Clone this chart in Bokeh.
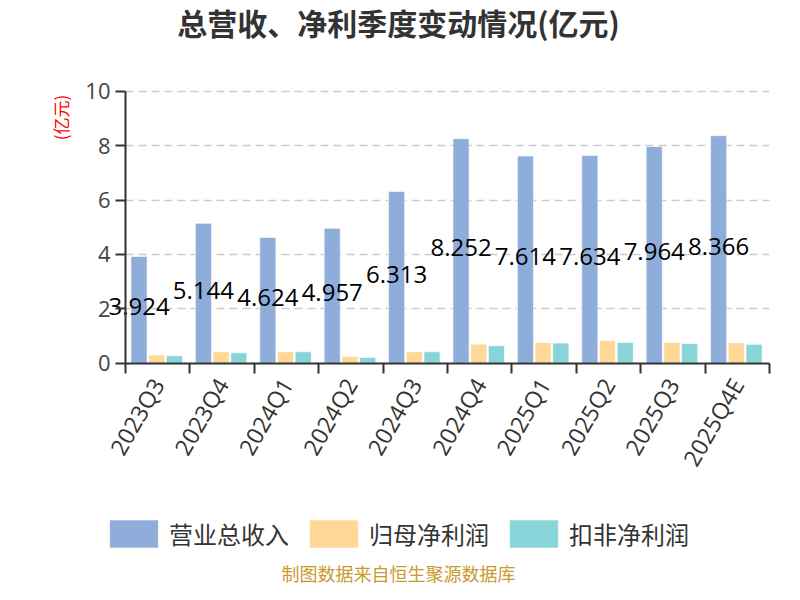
import math
from bokeh.plotting import figure
from bokeh.models import FixedTicker, Label, Legend, LegendItem, Range1d, ColumnDataSource, Grid
from bokeh.core.properties import value
from bokeh.embed import file_html
from bokeh.resources import INLINE

# ---- data ----
categories = ["2023Q3", "2023Q4", "2024Q1", "2024Q2", "2024Q3",
              "2024Q4", "2025Q1", "2025Q2", "2025Q3", "2025Q4E"]
revenue = [3.924, 5.144, 4.624, 4.957, 6.313, 8.252, 7.614, 7.634, 7.964, 8.366]
net_profit = [0.30, 0.42, 0.42, 0.25, 0.42, 0.70, 0.76, 0.83, 0.76, 0.75]
deducted_profit = [0.27, 0.38, 0.42, 0.21, 0.42, 0.64, 0.74, 0.76, 0.72, 0.69]
series_names = ["营业总收入", "归母净利润", "扣非净利润"]
y_ticks = [0, 2, 4, 6, 8, 10]
title_text = "总营收、净利季度变动情况(亿元)"
unit_text = "(亿元)"
source_text = "制图数据来自恒生聚源数据库"

colors = ["#8FADDB", "#FFD897", "#87D5D8"]
offsets = [0.21, 0.485, 0.76]
bar_w = 0.25

n = len(categories)
W, H = 784, 584
ax_x = 125.0      # px of value-axis from left
zero_y = 362.7    # px of zero line from top
band_px = 64.4    # px per category
unit_px = 27.2    # px per 1 (亿元)

def dx(px):   # canvas px -> data x
    return (px - ax_x) / band_px

def dy(py):   # canvas px (from top) -> data y
    return (zero_y - py) / unit_px

p = figure(width=W, height=H, output_backend="svg", toolbar_location=None,
           x_range=Range1d(dx(0), dx(W)), y_range=Range1d(dy(H), dy(0)),
           min_border=0, background_fill_color="white", border_fill_color="white")
p.outline_line_color = None

# grid
p.xgrid.visible = False
has_cross = "cross_bounds" in Grid.properties()
if has_cross:
    p.ygrid.ticker = FixedTicker(ticks=y_ticks[1:])
    p.ygrid.cross_bounds = (0, n)
    p.ygrid.grid_line_color = "#cccccc"
    p.ygrid.grid_line_dash = "8 5"
    p.ygrid.grid_line_width = 1.5
else:
    p.ygrid.visible = False
    p.segment(x0=[0] * 5, x1=[n] * 5, y0=y_ticks[1:], y1=y_ticks[1:],
              line_color="#cccccc", line_dash="8 5", line_width=1.5)

# y axis
p.yaxis.fixed_location = 0
p.yaxis.bounds = (0, 10)
p.yaxis.ticker = FixedTicker(ticks=y_ticks)
p.yaxis.axis_line_color = "#333333"
p.yaxis.axis_line_width = 2
p.yaxis.major_tick_line_color = "#333333"
p.yaxis.major_tick_line_width = 2
p.yaxis.major_tick_out = 10
p.yaxis.major_tick_in = 0
p.yaxis.minor_tick_line_color = None
p.yaxis.major_label_text_font = "Open Sans"
p.yaxis.major_label_text_font_size = "22px"
p.yaxis.major_label_text_color = "#444444"
p.yaxis.major_label_standoff = 5

# x axis
centers = [i + 0.5 for i in range(n)]
p.xaxis.fixed_location = 0
p.xaxis.bounds = (0, n)
p.xaxis.ticker = FixedTicker(ticks=centers, minor_ticks=list(range(n + 1)))
p.xaxis.major_label_overrides = {c: lab for c, lab in zip(centers, categories)}
p.xaxis.axis_line_color = "#333333"
p.xaxis.axis_line_width = 2
p.xaxis.major_tick_line_color = None
p.xaxis.minor_tick_line_color = "#333333"
p.xaxis.minor_tick_line_width = 2
p.xaxis.minor_tick_out = 10
p.xaxis.minor_tick_in = 0
p.xaxis.major_label_orientation = math.pi / 3
p.xaxis.major_label_text_font = "Open Sans"
p.xaxis.major_label_text_font_size = "23px"
p.xaxis.major_label_text_color = "#333333"
p.xaxis.major_label_standoff = 7

# bars
renderers = []
for k, vals in enumerate([revenue, net_profit, deducted_profit]):
    xs = [i + offsets[k] for i in range(n)]
    r = p.vbar(x=xs, top=vals, width=bar_w, bottom=0,
               fill_color=colors[k], line_color="white", line_alpha=0.6, line_width=1)
    renderers.append(r)

# value labels on revenue bars (at half height)
lab_src = ColumnDataSource(dict(
    x=[i + offsets[0] for i in range(n)],
    y=[v / 2 for v in revenue],
    t=[f"{v:.3f}" for v in revenue],
))
p.text(x="x", y="y", text="t", source=lab_src, text_align="center",
       text_baseline="middle", y_offset=-3, text_font=value("Open Sans"),
       text_font_size="24px", text_color="#000000")

# legend
legend = Legend(items=[LegendItem(label=series_names[k], renderers=[renderers[k]])
                       for k in range(3)],
                orientation="horizontal", location=(103, H - 513.2 - 40),
                glyph_width=61, glyph_height=35, label_height=40,
                label_standoff=5, spacing=14, padding=0, margin=0,
                border_line_color=None, background_fill_alpha=0,
                label_text_font="Noto Sans CJK SC", label_text_font_size="24px",
                label_text_color="#333333")
p.add_layout(legend)

# title
p.add_layout(Label(x=dx(398), y=dy(21), text=title_text,
                   text_align="center", text_baseline="middle",
                   text_font="Noto Sans CJK SC", text_font_style="bold",
                   text_font_size="30px", text_color="#333333"))
# unit label
p.add_layout(Label(x=dx(60), y=dy(117), text=unit_text,
                   angle=math.pi / 2, text_align="center", text_baseline="middle",
                   text_font="Noto Sans CJK SC", text_font_size="17px",
                   text_color="#FF0000"))
# source
p.add_layout(Label(x=dx(398), y=dy(572), text=source_text,
                   text_align="center", text_baseline="alphabetic",
                   text_font="Noto Sans CJK SC", text_font_size="18px",
                   text_color="#C99A2E"))

open("out.html", "w").write(file_html(p, INLINE))
